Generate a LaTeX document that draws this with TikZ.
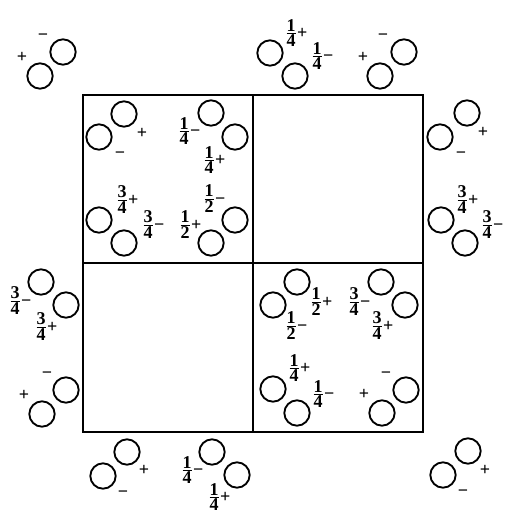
\documentclass[tikz,border=0pt]{standalone}
\usepackage{fontspec}
\setmainfont{Liberation Serif}
\usepackage{tikz}
\usetikzlibrary{positioning}

% minus sign, box recentred on the glyph
\newcommand{\mn}{\raisebox{0pt}[\dimexpr\height+3.6pt\relax][\depth]{−}}
% stacked fraction followed by a sign
\newcommand{\fr}[3]{$\vcenter{\halign{\hfil##\hfil\cr #1\cr
  \noalign{\kern1.2pt\hrule height 0.6pt\kern1.2pt}#2\cr}}%
  \kern1.2pt\vcenter{\hbox{#3}}$}

\begin{document}
\begin{tikzpicture}[
    x=0.75pt, y=-0.75pt,
    atom/.style={circle, draw, line width=1.4pt, minimum size=19pt, inner sep=0pt},
    sgn/.style={inner sep=0pt, font=\fontsize{13.5}{14}\selectfont\bfseries},
    cell/.style={line width=1.4pt}
]
\useasboundingbox (0,0) rectangle (510,519);

% Unit cell
\draw[cell] (83,95) rectangle (423,432);
\draw[cell] (253,95) -- (253,432);
\draw[cell] (83,263) -- (423,263);

% Top row (outside)
\node[atom] (tl1) at (63,52) {};
\node[atom] (tl2) at (40,76) {};
\node[sgn] (tl1s) at (43,35) {\mn};
\node[sgn] (tl2s) at (22,57) {+};

\node[atom] (t1a) at (270,53) {};
\node[atom] (t1b) at (295,76) {};
\node[sgn] (t1as) at (297,33) {\fr{1}{4}{+}};
\node[sgn] (t1bs) at (323,56) {\fr{1}{4}{\mn}};

\node[atom] (t2a) at (404,52) {};
\node[atom] (t2b) at (380,76) {};
\node[sgn] (t2as) at (383,35) {\mn};
\node[sgn] (t2bs) at (363,57) {+};

% Upper left cell
\node[atom] (a1) at (124,114) {};
\node[atom] (a2) at (99,137) {};
\node[sgn] (a1s) at (142,133) {+};
\node[sgn] (a2s) at (120,153) {\mn};

\node[atom] (b1) at (211,113) {};
\node[atom] (b2) at (235,137) {};
\node[sgn] (b1s) at (190,131) {\fr{1}{4}{\mn}};
\node[sgn] (b2s) at (215,160) {\fr{1}{4}{+}};

\node[atom] (c1) at (99,220) {};
\node[atom] (c2) at (124,243) {};
\node[sgn] (c1s) at (128,200) {\fr{3}{4}{+}};
\node[sgn] (c2s) at (154,225) {\fr{3}{4}{\mn}};

\node[atom] (d1) at (235,220) {};
\node[atom] (d2) at (211,243) {};
\node[sgn] (d1s) at (215,199) {\fr{1}{2}{\mn}};
\node[sgn] (d2s) at (191,225) {\fr{1}{2}{+}};

% Right side (outside)
\node[atom] (r1a) at (467,113) {};
\node[atom] (r1b) at (440,137) {};
\node[sgn] (r1as) at (483,132) {+};
\node[sgn] (r1bs) at (461,153) {\mn};

\node[atom] (r2a) at (441,220) {};
\node[atom] (r2b) at (465,243) {};
\node[sgn] (r2as) at (468,200) {\fr{3}{4}{+}};
\node[sgn] (r2bs) at (493,225) {\fr{3}{4}{\mn}};

% Left side (outside)
\node[atom] (l1a) at (41,282) {};
\node[atom] (l1b) at (66,305) {};
\node[sgn] (l1as) at (21,301) {\fr{3}{4}{\mn}};
\node[sgn] (l1bs) at (47,327) {\fr{3}{4}{+}};

\node[atom] (l2a) at (66,390) {};
\node[atom] (l2b) at (42,414) {};
\node[sgn] (l2as) at (47,373) {\mn};
\node[sgn] (l2bs) at (24,395) {+};

% Lower right cell
\node[atom] (e1) at (297,282) {};
\node[atom] (e2) at (273,305) {};
\node[sgn] (e1s) at (322,302) {\fr{1}{2}{+}};
\node[sgn] (e2s) at (297,326) {\fr{1}{2}{\mn}};

\node[atom] (f1) at (381,282) {};
\node[atom] (f2) at (405,305) {};
\node[sgn] (f1s) at (360,302) {\fr{3}{4}{\mn}};
\node[sgn] (f2s) at (383,326) {\fr{3}{4}{+}};

\node[atom] (g1) at (273,389) {};
\node[atom] (g2) at (297,413) {};
\node[sgn] (g1s) at (300,368) {\fr{1}{4}{+}};
\node[sgn] (g2s) at (324,394) {\fr{1}{4}{\mn}};

\node[atom] (h1) at (406,390) {};
\node[atom] (h2) at (382,413) {};
\node[sgn] (h1s) at (386,373) {\mn};
\node[sgn] (h2s) at (364,394) {+};

% Bottom row (outside)
\node[atom] (bt1a) at (127,452) {};
\node[atom] (bt1b) at (103,476) {};
\node[sgn] (bt1as) at (144,470) {+};
\node[sgn] (bt1bs) at (123,492) {\mn};

\node[atom] (bt2a) at (212,452) {};
\node[atom] (bt2b) at (237,475) {};
\node[sgn] (bt2as) at (193,470) {\fr{1}{4}{\mn}};
\node[sgn] (bt2bs) at (220,497) {\fr{1}{4}{+}};

\node[atom] (br1) at (468,451) {};
\node[atom] (br2) at (443,475) {};
\node[sgn] (br1s) at (485,470) {+};
\node[sgn] (br2s) at (463,491) {\mn};

\end{tikzpicture}
\end{document}
